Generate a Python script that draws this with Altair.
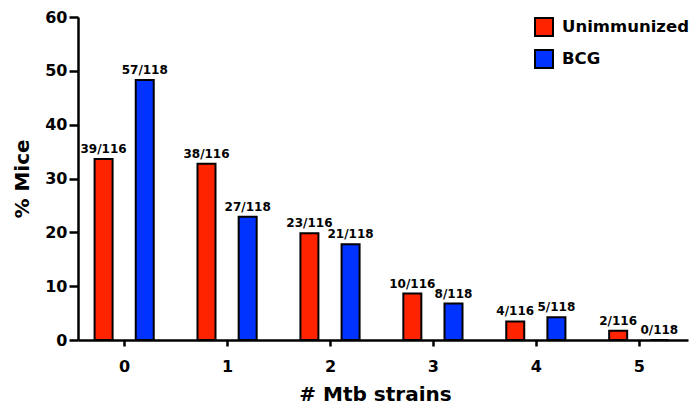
import altair as alt
import pandas as pd

# Number of Mtb strains detected per mouse
strains = [0, 1, 2, 3, 4, 5]

groups = ["Unimmunized", "BCG"]
colors = ["#FF2400", "#0033FF"]

unimmunized_pos = [39, 38, 23, 10, 4, 2]
unimmunized_total = 116
bcg_pos = [57, 27, 21, 8, 5, 0]
bcg_total = 118

rows = []
for s, n in zip(strains, unimmunized_pos):
    rows.append({"strain": s, "group": "Unimmunized", "n": n, "total": unimmunized_total})
for s, n in zip(strains, bcg_pos):
    rows.append({"strain": s, "group": "BCG", "n": n, "total": bcg_total})
df = pd.DataFrame(rows)
df["pct"] = df["n"] / df["total"] * 100
df["label"] = df["n"].astype(str) + "/" + df["total"].astype(str)

FONT = "DejaVu Sans"

base = alt.Chart(df).transform_calculate(
    xpos="datum.strain + (datum.group === 'BCG' ? 0.2 : -0.2)"
)

x_enc = alt.X(
    "xpos:Q",
    scale=alt.Scale(domain=[-0.4, 5.43], nice=False, zero=False),
    axis=alt.Axis(
        values=strains,
        format="d",
        title="# Mtb strains",
        grid=False,
        titleX=297,
    ),
)
y_enc = alt.Y(
    "pct:Q",
    scale=alt.Scale(domain=[0, 60], nice=False),
    axis=alt.Axis(values=[0, 10, 20, 30, 40, 50, 60], title="% Mice", grid=False),
)

bars = base.mark_bar(width=18, stroke="black", strokeWidth=2).encode(
    x=x_enc,
    y=y_enc,
    fill=alt.Fill(
        "group:N",
        scale=alt.Scale(domain=groups, range=colors),
        legend=alt.Legend(
            title=None,
            orient="none",
            legendX=456,
            legendY=0,
            symbolType="square",
            symbolSize=324,
            symbolStrokeColor="black",
            symbolStrokeWidth=2,
            labelFont=FONT,
            labelFontSize=16.5,
            labelFontWeight="bold",
            labelColor="black",
            labelOffset=8,
            rowPadding=6,
        ),
    ),
)

labels = base.mark_text(
    baseline="bottom", dy=-3, font=FONT, fontSize=12, fontWeight="bold", color="black"
).encode(
    x="xpos:Q",
    y="pct:Q",
    text="label:N",
)

chart = (
    alt.layer(bars, labels)
    .properties(
        width=610,
        height=323,
        autosize=alt.AutoSizeParams(type="none"),
        padding={"left": 78, "top": 17, "right": 5, "bottom": 67},
        background="white",
    )
    .configure_view(stroke=None)
    .configure_axis(
        domainColor="black",
        domainWidth=2.5,
        tickColor="black",
        tickWidth=2.5,
        labelFont=FONT,
        labelFontSize=16,
        labelFontWeight="bold",
        labelColor="black",
        titleFont=FONT,
        titleFontSize=20,
        titleFontWeight="bold",
        titleColor="black",
    )
    .configure_axisY(tickSize=9, labelPadding=2, titlePadding=12)
    .configure_axisX(tickSize=6, labelPadding=12, titlePadding=10)
)

chart.save("out.html", embed_options={"renderer": "svg", "actions": False})
